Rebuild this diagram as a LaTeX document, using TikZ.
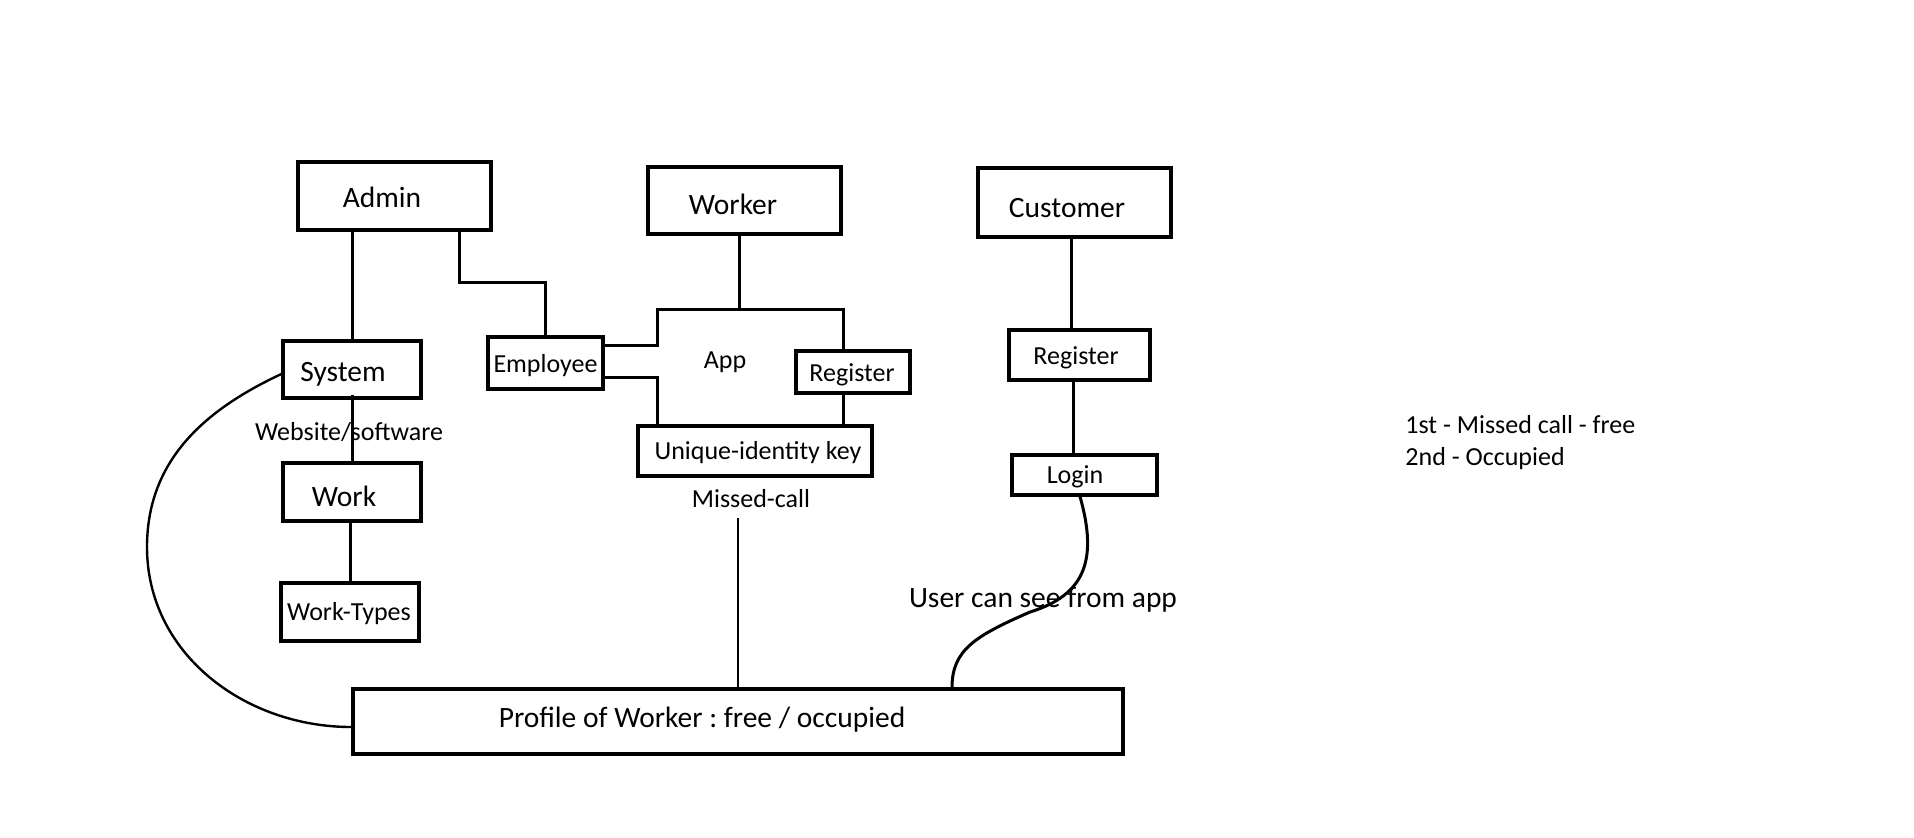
\documentclass[tikz,border=0pt]{standalone}
\usepackage{fontspec}
\setmainfont{Carlito}
\frenchspacing
\usetikzlibrary{calc}
\begin{document}
\begin{tikzpicture}[x=0.5pt,y=-0.5pt,
  box/.style={draw, line width=1.6pt, inner sep=0pt},
  big/.style={font=\fontsize{14.75pt}{17pt}\selectfont, inner sep=1pt, yshift=-1.2pt},
  small/.style={font=\fontsize{13pt}{16pt}\selectfont, inner sep=1pt, yshift=-1.2pt},
  conn/.style={line width=1.5pt},
  thinconn/.style={line width=1.2pt}]
\useasboundingbox (0,0) rectangle (1914,837);

% boxes
\node[box, minimum width=96.5pt, minimum height=34pt] (admin) at (394.5,196) {};
\node[box, minimum width=69pt, minimum height=28.5pt] (system) at (352,369.5) {};
\node[box, minimum width=57.5pt, minimum height=26pt] (employee) at (545.5,363) {};
\node[box, minimum width=96.5pt, minimum height=33.5pt] (worker) at (744.5,200.5) {};
\node[box, minimum width=57pt, minimum height=21pt] (register1) at (853,372) {};
\node[box, minimum width=117pt, minimum height=25pt] (unique) at (755,451) {};
\node[box, minimum width=96.5pt, minimum height=34.5pt] (customer) at (1074.5,202.5) {};
\node[box, minimum width=70.5pt, minimum height=25pt] (register2) at (1079.5,355) {};
\node[box, minimum width=72.5pt, minimum height=20pt] (login) at (1084.5,475) {};
\node[box, minimum width=69pt, minimum height=29pt] (work) at (352,492) {};
\node[box, minimum width=69pt, minimum height=29pt] (worktypes) at (350,612) {};
\node[box, minimum width=385pt, minimum height=32.5pt] (profile) at (738,721.5) {};

% texts
\node[big] (admin-t) at (382,195) {Admin};
\node[big] (system-t) at (343,372) {System};
\node[small] (employee-t) at (545.5,363) {Employee};
\node[big] (worker-t) at (733,202) {Worker};
\node[small] (register1-t) at (852,372) {Register};
\node[small] (unique-t) at (758,450) {Unique-identity key};
\node[big] (customer-t) at (1067,206) {Customer};
\node[small] (register2-t) at (1076,355) {Register};
\node[small] (login-t) at (1075,474) {Login};
\node[big] (work-t) at (344,494) {Work};
\node[small] (worktypes-t) at (349,611) {Work-Types};
\node[big] (profile-t) at (702,717) {Profile of Worker : free / occupied};
\node[small] (app) at (725,360) {App};
\node[small] (website) at (349,430) {Website/software};
\node[small] (missed) at (751,496) {Missed-call};
\node[big] (user) at (1043,597) {User can see from app};
\node[small, align=left, anchor=west] (legend) at (1403,440.5) {1st - Missed call - free\\2nd - Occupied};

% connectors
\coordinate (appTL) at (657,309);
\coordinate (appTR) at (843,309);
\coordinate (arcleft) at (147,547);
\coordinate (lcmid) at (1030,612);

\draw[conn] (admin.south -| system.north) -- (system.north);
\draw[conn] ([xshift=32.25pt]admin.south) -- ++(0,51) -| (employee.north);
\draw[conn] ([xshift=-2.75pt]worker.south) -- ([xshift=-2.75pt]worker.south |- appTL);
\draw[conn] ([yshift=9pt]employee.east) -| (appTL) -- (appTR) -- (appTR |- register1.north);
\draw[conn] ([yshift=-7pt]employee.east) -| (appTL |- unique.north);
\draw[conn] (appTR |- register1.south) -- (appTR |- unique.north);
\draw[thinconn] ([yshift=-4pt]profile.north |- missed.south) -- (profile.north);
\draw[conn] ([xshift=-1.75pt]customer.south) -- ([xshift=-1.75pt]customer.south |- register2.north);
\draw[conn] ([xshift=-3pt]register2.south) -- ([xshift=-3pt]register2.south |- login.north);
\draw[conn] ([yshift=2.5pt]system.south) -- (work.north);
\draw[conn] (worktypes.north |- work.south) -- (worktypes.north);
\draw[thinconn] ([yshift=-2.25pt]system.west) to[out=205,in=90] (arcleft) to[out=270,in=180] ([yshift=-2.75pt]profile.west);
\draw[conn] ([xshift=-2.25pt]login.south) .. controls (1098,560) and (1085,595) .. (lcmid) .. controls (975,636) and (952,650) .. ([xshift=107pt]profile.north);
\end{tikzpicture}
\end{document}
